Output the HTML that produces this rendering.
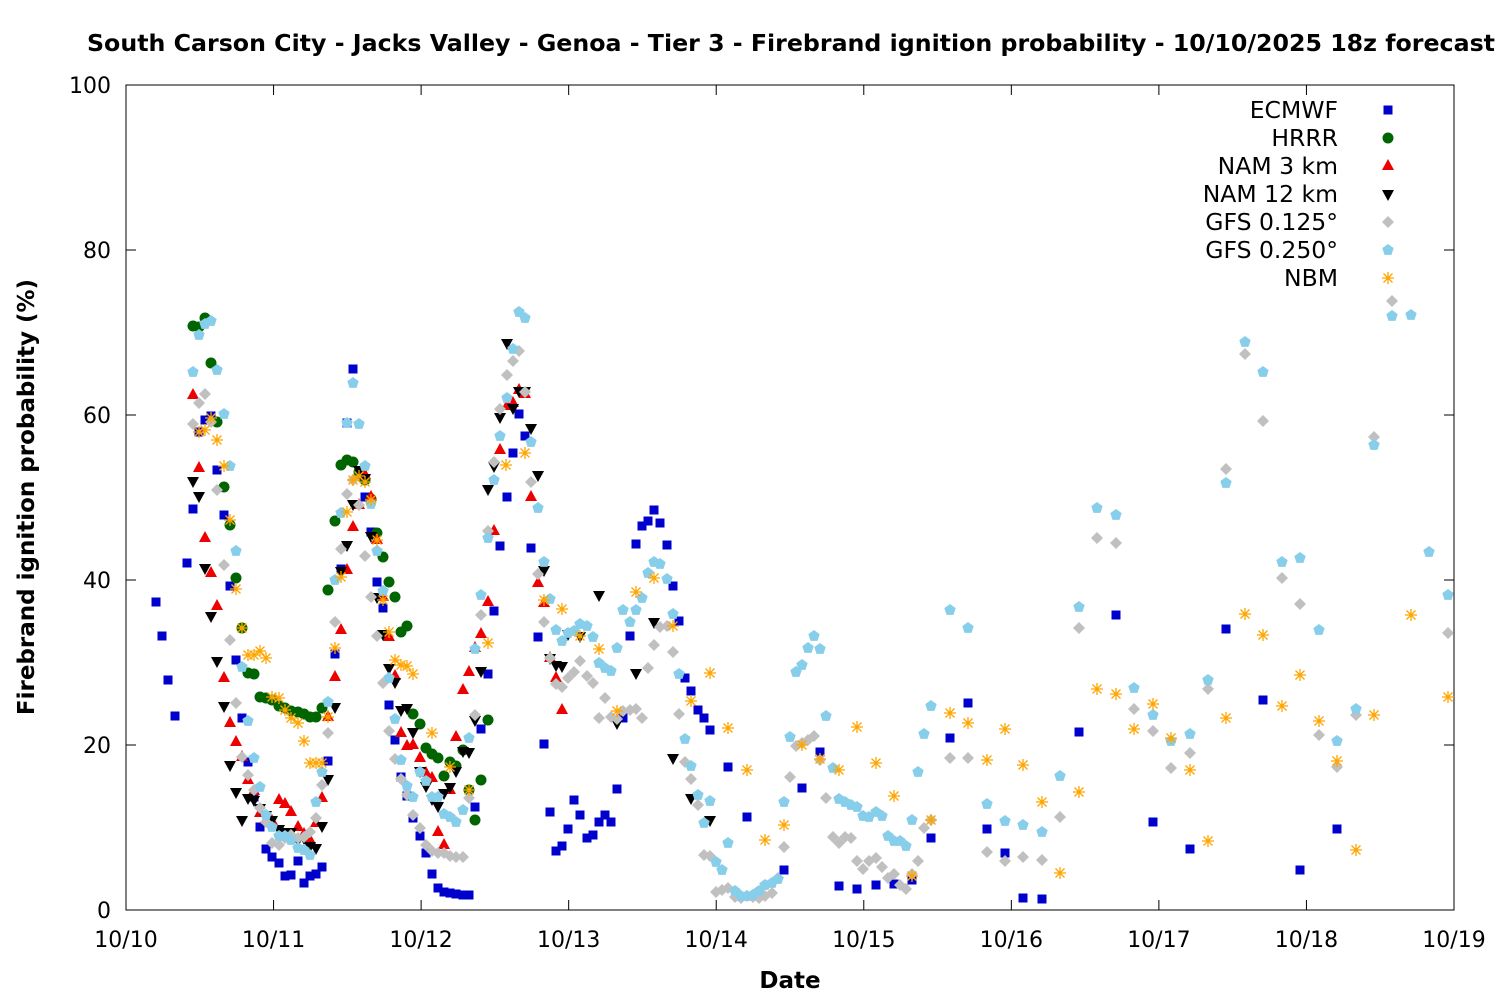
<!DOCTYPE html>
<html><head><meta charset="utf-8"><style>
html,body{margin:0;padding:0;background:#fff;}
svg{display:block;font-family:"DejaVu Sans","Liberation Sans",sans-serif;}
</style></head><body>
<svg id="s" width="1500" height="1000" xmlns="http://www.w3.org/2000/svg">
<rect width="1500" height="1000" fill="#fff"/>
<text x="791" y="51" font-size="23.5" font-weight="bold" text-anchor="middle" textLength="1408" lengthAdjust="spacingAndGlyphs">South Carson City - Jacks Valley - Genoa - Tier 3 - Firebrand ignition probability - 10/10/2025 18z forecast</text>
<g id="axes" stroke="#000" stroke-width="1" fill="none"></g>
<g id="labels" font-size="22" fill="#000"></g>
<text x="790" y="988" font-size="23" font-weight="bold" text-anchor="middle">Date</text>
<text transform="translate(34,497) rotate(-90)" font-size="23" font-weight="bold" text-anchor="middle">Firebrand ignition probability (%)</text>
<g id="pts"></g>
<g id="leg" font-size="23.5" text-anchor="end">
<text x="1338" y="118">ECMWF</text>
<text x="1338" y="146">HRRR</text>
<text x="1338" y="174">NAM 3 km</text>
<text x="1338" y="202">NAM 12 km</text>
<text x="1338" y="230">GFS 0.125°</text>
<text x="1338" y="258">GFS 0.250°</text>
<text x="1338" y="286">NBM</text>
</g>
</svg>
<script>
var NS="http://www.w3.org/2000/svg",s=document.getElementById('s');
function el(p,t,a){var e=document.createElementNS(NS,t);for(var k in a)e.setAttribute(k,a[k]);p.appendChild(e);return e;}
var ax=document.getElementById('axes'),lb=document.getElementById('labels');
el(ax,'rect',{x:126,y:85,width:1328,height:825});
for(var i=0;i<=5;i++){var y=910-i*165;el(ax,'line',{x1:126,y1:y,x2:136,y2:y});el(ax,'line',{x1:1454,y1:y,x2:1444,y2:y});
var t=el(lb,'text',{x:111,y:y+8,'text-anchor':'end'});t.textContent=String(i*20);}
var days=['10/10','10/11','10/12','10/13','10/14','10/15','10/16','10/17','10/18','10/19'];
for(var d=0;d<=9;d++){var x=126+d*147.556;el(ax,'line',{x1:x,y1:910,x2:x,y2:900});el(ax,'line',{x1:x,y1:85,x2:x,y2:95});
var t=el(lb,'text',{x:x,y:947,'text-anchor':'middle'});t.textContent=days[d];}
function P(str){return str.trim().split(/\)\s*,\s*\(/).map(function(q){q=q.replace(/[()]/g,'').split(',');return [+q[0],+q[1]];});}
var ser=[
{c:'#0000cc',m:'sq',d:"(156,602),(162,636),(168,680),(175,716),(187,563),(193,509),(199,432),(205,420),(211,416),(217,470),(224,515),(230,586),(236,660),(242,718),(248,762),(254,797),(260,827),(266,849),(272,857),(279,863),(285,876),(291,875),(298,861),(304,883),(310,876),(316,874),(322,867),(328,761),(335,654),(341,569),(347,423),(353,369),(359,474),(365,497),(371,532),(377,582),(383,608),(389,705),(395,740),(401,777),(407,796),(413,818),(420,836),(426,853),(432,874),(438,888),(444,892),(450,893),(456,894),(463,895),(469,895),(475,807),(481,729),(488,674),(494,611),(500,546),(507,497),(513,453),(519,414),(525,436),(531,548),(538,637),(544,744),(550,812),(556,851),(562,846),(568,829),(574,800),(580,815),(587,838),(593,835),(599,822),(605,815),(611,822),(617,789),(623,718),(630,636),(636,544),(642,526),(648,521),(654,510),(660,523),(667,545),(673,586),(679,621),(685,678),(691,691),(698,710),(704,718),(710,730),(728,767),(747,817),(784,870),(802,788),(820,752),(839,886),(857,889),(876,885),(894,884),(912,880),(931,838),(950,738),(968,703),(987,829),(1005,853),(1023,898),(1042,899),(1079,732),(1116,615),(1153,822),(1190,849),(1226,629),(1263,700),(1300,870),(1337,829)"},
{c:'#006400',m:'ci',d:"(193,326),(199,327),(205,318),(211,363),(217,422),(224,487),(230,525),(236,578),(242,628),(248,673),(254,674),(260,697),(266,698),(272,700),(279,706),(285,708),(291,711),(298,712),(304,714),(310,717),(316,717),(322,708),(328,590),(335,521),(341,465),(347,460),(353,462),(359,472),(365,480),(371,499),(377,533),(383,557),(389,582),(395,597),(401,632),(407,626),(413,714),(420,724),(426,748),(432,754),(438,758),(444,776),(450,762),(456,766),(463,750),(469,790),(475,820),(481,780),(488,720)"},
{c:'#ee0000',m:'tu',d:"(193,395),(199,468),(205,538),(211,573),(217,606),(224,678),(230,723),(236,742),(242,757),(248,780),(254,791),(260,813),(266,820),(272,821),(279,800),(285,804),(291,812),(298,827),(304,834),(310,840),(316,823),(322,798),(328,717),(335,677),(341,630),(347,570),(353,527),(359,505),(365,475),(371,497),(377,540),(383,597),(389,637),(395,676),(401,733),(407,746),(413,745),(420,758),(426,773),(432,778),(438,832),(444,845),(450,790),(456,737),(463,690),(469,672),(475,648),(481,634),(488,602),(494,531),(500,450),(507,406),(513,403),(519,390),(525,394),(531,497),(538,583),(544,603),(550,658),(556,678),(562,710)"},
{c:'#000000',m:'td',d:"(193,481),(199,496),(205,568),(211,616),(217,661),(224,706),(230,765),(236,792),(242,820),(248,798),(254,800),(260,808),(266,815),(272,820),(279,829),(285,832),(291,832),(298,840),(304,838),(310,846),(316,848),(322,826),(328,779),(335,707),(341,571),(347,545),(353,504),(359,470),(365,478),(371,536),(377,597),(383,634),(389,668),(395,682),(401,710),(407,708),(413,732),(420,771),(426,786),(432,799),(438,806),(444,793),(450,787),(456,771),(463,751),(469,752),(475,720),(481,671),(488,489),(494,466),(500,417),(507,343),(513,408),(519,391),(525,391),(531,428),(538,475),(544,570),(550,658),(556,665),(562,666),(568,634),(580,636),(599,595),(617,723),(636,673),(654,622),(673,758),(691,798),(710,820)"},
{c:'#c0c0c0',m:'di',d:"(193,424),(199,403),(205,394),(211,422),(217,490),(224,565),(230,640),(236,703),(242,757),(248,775),(254,790),(260,808),(266,822),(272,843),(279,845),(285,838),(291,835),(298,838),(304,837),(310,832),(316,818),(322,785),(328,733),(335,622),(341,549),(347,494),(353,480),(359,505),(365,556),(371,597),(377,636),(383,683),(389,731),(395,759),(401,779),(407,795),(413,815),(420,828),(426,845),(432,851),(438,853),(444,853),(450,856),(456,857),(463,857),(469,798),(475,715),(481,615),(488,531),(494,462),(500,409),(507,375),(513,361),(519,351),(525,392),(531,482),(538,574),(544,622),(550,658),(556,684),(562,687),(568,678),(574,672),(580,661),(587,676),(593,683),(599,718),(605,698),(611,717),(617,719),(623,711),(630,710),(636,709),(642,718),(648,668),(654,645),(660,627),(667,626),(673,652),(679,714),(685,762),(691,779),(698,805),(704,855),(710,856),(716,892),(722,890),(728,888),(735,897),(741,898),(747,896),(753,897),(759,898),(765,896),(772,893),(778,878),(784,847),(790,777),(796,746),(802,743),(808,740),(814,736),(820,760),(826,798),(833,837),(839,843),(845,837),(851,838),(857,861),(863,869),(869,861),(876,858),(882,867),(888,878),(894,874),(900,885),(906,889),(912,874),(918,861),(924,828),(931,820),(950,758),(968,758),(987,852),(1005,861),(1023,857),(1042,860),(1060,817),(1079,628),(1097,538),(1116,543),(1134,709),(1153,731),(1171,768),(1190,753),(1208,689),(1226,469),(1245,354),(1263,421),(1282,578),(1300,604),(1319,735),(1337,767),(1356,715),(1374,437),(1392,301),(1448,633)"},
{c:'#87ceeb',m:'pe',d:"(193,372),(199,335),(205,324),(211,321),(217,370),(224,414),(230,466),(236,551),(242,667),(248,721),(254,758),(260,787),(266,815),(272,827),(279,836),(285,836),(291,840),(298,848),(304,850),(310,855),(316,802),(322,772),(328,702),(335,580),(341,513),(347,423),(353,383),(359,424),(365,466),(371,504),(377,551),(383,591),(389,678),(395,719),(401,760),(407,786),(413,797),(420,772),(426,781),(432,797),(438,797),(444,814),(450,817),(456,822),(463,810),(469,738),(475,649),(481,595),(488,538),(494,480),(500,436),(507,398),(513,349),(519,312),(525,318),(531,442),(538,508),(544,562),(550,599),(556,630),(562,641),(568,633),(574,631),(580,624),(587,626),(593,637),(599,663),(605,668),(611,671),(617,648),(623,610),(630,622),(636,610),(642,598),(648,573),(654,562),(660,564),(667,579),(673,614),(679,674),(685,739),(691,766),(698,795),(704,823),(710,801),(716,862),(722,870),(728,843),(735,891),(741,896),(747,896),(753,895),(759,891),(765,885),(772,883),(778,879),(784,802),(790,737),(796,672),(802,665),(808,648),(814,636),(820,649),(826,716),(833,768),(839,799),(845,802),(851,805),(857,807),(863,816),(869,817),(876,812),(882,816),(888,836),(894,841),(900,841),(906,846),(912,820),(918,772),(924,734),(931,706),(950,610),(968,628),(987,804),(1005,821),(1023,825),(1042,832),(1060,776),(1079,607),(1097,508),(1116,515),(1134,688),(1153,715),(1171,741),(1190,734),(1208,680),(1226,483),(1245,342),(1263,372),(1282,562),(1300,558),(1319,630),(1337,741),(1356,709),(1374,445),(1392,316),(1411,315),(1429,552),(1448,595)"},
{c:'#ffa500',m:'as',d:"(199,432),(205,430),(211,418),(217,440),(224,466),(230,520),(236,589),(242,628),(248,655),(254,655),(260,651),(266,658),(272,697),(279,698),(285,710),(291,718),(298,723),(304,741),(310,763),(316,763),(322,763),(328,717),(335,648),(341,577),(347,512),(353,480),(359,476),(365,482),(371,500),(377,540),(383,600),(389,632),(395,660),(401,665),(407,666),(413,674),(432,733),(450,767),(469,790),(488,643),(506,465),(525,453),(544,600),(562,609),(580,636),(599,649),(617,711),(636,592),(654,578),(673,626),(691,701),(710,673),(728,728),(747,770),(765,840),(784,825),(802,745),(820,759),(839,770),(857,727),(876,763),(894,796),(912,876),(931,820),(950,713),(968,723),(987,760),(1005,729),(1023,765),(1042,802),(1060,873),(1079,792),(1097,689),(1116,694),(1134,729),(1153,704),(1171,738),(1190,770),(1208,841),(1226,718),(1245,614),(1263,635),(1282,706),(1300,675),(1319,721),(1337,761),(1356,850),(1374,715),(1411,615),(1448,697)"}
];
var g=document.getElementById('pts');
function mk(m,c,x,y){
 if(m=='sq')el(g,'rect',{x:x-4.5,y:y-4.5,width:9,height:9,fill:c});
 else if(m=='ci')el(g,'circle',{cx:x,cy:y,r:5.5,fill:c});
 else if(m=='tu')el(g,'polygon',{points:(x-6)+','+(y+4)+' '+(x+6)+','+(y+4)+' '+x+','+(y-7),fill:c});
 else if(m=='td')el(g,'polygon',{points:(x-6)+','+(y-4)+' '+(x+6)+','+(y-4)+' '+x+','+(y+7),fill:c});
 else if(m=='di')el(g,'polygon',{points:x+','+(y-6)+' '+(x+6)+','+y+' '+x+','+(y+6)+' '+(x-6)+','+y,fill:c});
 else if(m=='pe'){var p=[];for(var i=0;i<5;i++){var a=-Math.PI/2+i*2*Math.PI/5;p.push((x+6*Math.cos(a)).toFixed(1)+','+(y+6*Math.sin(a)).toFixed(1));}el(g,'polygon',{points:p.join(' '),fill:c});}
 else {el(g,'path',{d:'M'+(x-6)+','+y+'h12M'+x+','+(y-6)+'v12M'+(x-4.5)+','+(y-4.5)+'l9,9M'+(x-4.5)+','+(y+4.5)+'l9,-9',stroke:c,'stroke-width':1.3,fill:'none'});}
}
ser.forEach(function(S,i){P(S.d).forEach(function(p){mk(S.m,S.c,p[0],p[1]);});mk(S.m,S.c,1388,110+i*28);});
</script>
</body></html>
